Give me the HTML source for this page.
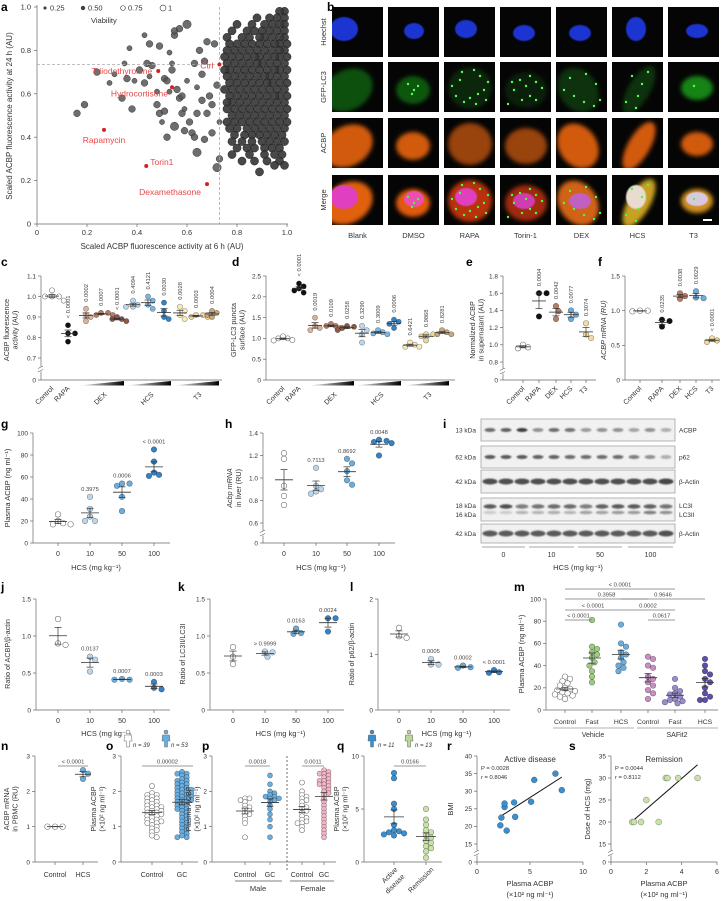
<!DOCTYPE html>
<html><head><meta charset="utf-8">
<style>
html,body{margin:0;padding:0;background:#fff;}
svg{display:block;font-family:"Liberation Sans",Arial,sans-serif;}
</style></head>
<body>
<svg id="fig" width="722" height="901" viewBox="0 0 722 901" xmlns="http://www.w3.org/2000/svg">
<defs>
<filter id="blur1" x="-50%" y="-50%" width="200%" height="200%"><feGaussianBlur stdDeviation="2.2"/></filter>
<filter id="blur0" x="-50%" y="-50%" width="200%" height="200%"><feGaussianBlur stdDeviation="0.6"/></filter>
<filter id="bandblur" x="-50%" y="-100%" width="200%" height="300%"><feGaussianBlur stdDeviation="0.9"/></filter>
<linearGradient id="wedge" x1="0" x2="1" y1="0" y2="0"><stop offset="0" stop-color="#fff"/><stop offset="1" stop-color="#000"/></linearGradient>
<clipPath id="bclip"><rect x="0" y="0" width="51" height="50"/></clipPath>
</defs>
</svg>
<script>
// ================= DATA =================
const aScatter=[[0.16,0.51,0.75],[0.19,0.55,0.75],[0.24,0.70,0.75],[0.29,0.65,0.5],[0.31,0.69,0.5],[0.34,0.58,0.75],[0.35,0.74,0.5],[0.36,0.67,0.75],[0.37,0.81,0.5],[0.38,0.53,0.75],[0.39,0.66,0.5],[0.41,0.71,0.75],[0.43,0.65,0.75],[0.43,0.87,0.5],[0.44,0.74,0.75],[0.45,0.83,0.75],[0.45,0.68,0.5],[0.46,0.73,0.75],[0.48,0.55,0.75],[0.49,0.51,0.75],[0.49,0.82,0.75],[0.50,0.47,0.5],[0.51,0.67,0.75],[0.51,0.52,0.75],[0.52,0.66,0.75],[0.53,0.79,0.5],[0.53,0.61,0.5],[0.54,0.74,0.5],[0.54,0.71,0.75],[0.55,0.87,0.75],[0.55,0.89,0.75],[0.55,0.45,1],[0.56,0.62,0.75],[0.57,0.90,0.75],[0.57,0.58,0.75],[0.58,0.59,0.75],[0.58,0.51,0.75],[0.59,0.53,0.5],[0.59,0.43,0.75],[0.60,0.92,1],[0.60,0.66,0.5],[0.61,0.47,0.75],[0.62,0.42,0.75],[0.63,0.40,0.75],[0.63,0.74,0.75],[0.64,0.63,0.5],[0.64,0.33,1],[0.64,0.51,0.75],[0.65,0.80,0.75],[0.66,0.69,0.75],[0.66,0.57,0.75],[0.67,0.39,0.75],[0.67,0.75,0.75],[0.68,0.51,0.75],[0.68,0.84,0.75],[0.69,0.59,0.75],[0.70,0.55,0.75],[0.70,0.42,0.75],[0.71,0.83,0.75],[0.72,0.26,1],[0.72,0.64,0.75],[0.73,0.47,0.5],[0.73,0.30,0.75],[0.52,0.40,0.75],[0.48,0.61,0.5]];
const aClusterY=[0.98,0.95,0.92,0.89,0.86,0.83,0.80,0.77,0.74,0.71,0.68,0.65,0.62,0.59,0.56,0.53,0.50,0.47,0.44,0.41,0.38,0.35,0.32,0.29,0.27,0.24];
const aClusterX=[[.99,.97],[.99,.96,.93,.88],[.99,.97,.94,.91,.86,.80],[.99,.96,.93,.90,.87,.84,.78],[.99,.97,.94,.91,.89,.85,.82,.76],[1.0,.97,.95,.92,.89,.86,.83,.80,.77],[.99,.97,.94,.91,.88,.85,.82,.79,.76],[1.0,.97,.95,.92,.89,.87,.84,.81,.78,.75],[.99,.96,.93,.90,.88,.85,.82,.79,.76],[1.0,.97,.95,.92,.89,.86,.83,.80,.77,.75],[.99,.96,.93,.91,.88,.85,.82,.79,.76],[1.0,.97,.94,.92,.89,.86,.83,.80,.77],[.99,.96,.93,.90,.87,.84,.81,.78,.75],[1.0,.97,.95,.92,.89,.86,.83,.80,.77],[.99,.96,.93,.90,.87,.84,.81,.78,.76],[1.0,.97,.94,.91,.88,.85,.82,.79,.76],[.99,.96,.93,.90,.87,.84,.81,.78],[1.0,.97,.94,.91,.88,.85,.82,.79,.76],[.99,.96,.93,.90,.87,.84,.80,.77],[.98,.95,.92,.89,.86,.83,.79],[.99,.96,.93,.90,.86,.82,.78],[.97,.94,.91,.87,.84,.80],[.98,.95,.91,.85,.78],[.97,.92,.87,.82],[.99,.95],[.89]];
const aHighlightNames=['Triiodothyronine','Ctrl','Hydrocortisone','Rapamycin','Torin1','Dexamethasone'];
const aHighlightX=[0.485,0.73,0.54,0.268,0.437,0.68];
const aHighlightY=[0.705,0.735,0.63,0.434,0.267,0.184];
const aTicks=[0,0.2,0.4,0.6,0.8,1.0];
const aTickLabels=['0','0.2','0.4','0.6','0.8','1.0'];

const cVals=[[1.0,1.0,1.0,1.03,0.98],[0.86,0.82,0.82,0.78],[0.94,0.91,0.90,0.88],[0.92,0.91,0.91,0.92],[0.89,0.89,0.88,0.90],[0.98,0.95,0.95,0.96],[1.0,0.98,0.96,0.94],[0.97,0.93,0.90,0.89],[0.95,0.93,0.91,0.89],[0.91,0.91,0.90,0.90],[0.93,0.92,0.91,0.90]];
const cP=['','< 0.0001','0.0002','0.0007','< 0.0001','0.4094','0.4121','0.0030','0.0028','0.0003','0.0004'];
const dVals=[[1.0,0.95,0.96,1.05,1.0],[2.25,2.32,2.15,2.1,2.2],[1.5,1.3,1.25,1.2],[1.35,1.3,1.25,1.3],[1.3,1.28,1.25,1.2],[1.3,1.2,1.1,0.9],[1.2,1.15,1.1,1.12],[1.45,1.4,1.35,1.25],[0.9,0.85,0.8,0.8],[1.1,1.1,1.05,0.95],[1.2,1.15,1.1,1.1]];
const dP=['','< 0.0001','0.0019','0.0109','0.0258','0.3290','0.3009','0.0006','0.6421','0.9868','0.8281'];
const eVals=[[1.0,0.97,0.96],[1.6,1.6,1.33],[1.45,1.39,1.3],[1.4,1.35,1.3],[1.25,1.12,1.08]];
const eP=['','0.0004','0.0042','0.0077','0.3074'];
const fVals=[[1.0,1.0,0.99],[0.87,0.85,0.77],[1.25,1.21,1.17],[1.28,1.18,1.19],[0.6,0.57,0.55]];
const fP=['','0.0235','0.0038','0.0029','< 0.0001'];
const fiveCats=['Control','RAPA','DEX','HCS','T3'];
const gVals=[[26,20,18,17,17],[42,31,24,20,20],[54,52,54,42,29],[85,74,64,62,61]];
const gP=['','0.3975','0.0006','< 0.0001'];
const hVals=[[1.22,1.17,0.93,0.84,0.76],[1.09,0.93,0.90,0.88,0.86],[1.17,1.13,1.06,0.98,0.94],[1.34,1.33,1.32,1.31,1.20]];
const hP=['','0.7113','0.8692','0.0048'];
const doseLabels=['0','10','50','100'];
const blotACBP=[.7,.75,.95,.5,.7,.65,.45,.5,.5,.4,.5,.35];
const blotP62=[.8,.8,.8,.75,.75,.7,.7,.7,.7,.6,.5,.35];
const blotActin=[.85,.85,.85,.85,.85,.85,.85,.85,.85,.85,.85,.9];
const blotLC3I=[.8,.85,.6,.65,.7,.7,.6,.75,.8,.8,.75,.65];
const blotLC3II=[.2,.2,.3,.3,.35,.3,.4,.4,.45,.45,.6,.5];
const blotActin2=[.8,.8,.8,.8,.8,.8,.8,.8,.8,.8,.8,.85];
const jVals=[[1.23,0.9,0.88],[0.72,0.68,0.52],[0.41,0.42,0.41],[0.38,0.30,0.28]];
const jP=['','0.0137','0.0007','0.0003'];
const kVals=[[0.85,0.72,0.62],[0.79,0.78,0.72],[1.10,1.04,1.03],[1.24,1.24,1.06]];
const kP=['','> 0.9999','0.0163','0.0024'];
const lVals=[[1.48,1.33,1.30],[0.92,0.82,0.82],[0.80,0.77,0.76],[0.72,0.68,0.67]];
const lP=['','0.0005','0.0002','< 0.0001'];
const mCats=['Control','Fast','HCS','Control','Fast','HCS'];
const mVals=[[30,28,26,24,22,20,19,18,17,16,15,14,13,12,10],[81,57,55,52,50,47,43,40,35,30,25],[77,60,57,52,50,47,43,40,38,35],[48,46,40,38,30,28,25,22,18,15,10],[28,20,17,15,14,12,10,9,8,7,6],[46,40,35,32,28,25,20,15,12,9,9]];
const mBrFrom=[0,3,0,2,0,2,0];
const mBrTo=[1,4,2,4,3,5,4];
const mBrLevel=[0,0,1,1,2,2,3];
const mBrLabel=['< 0.0001','0.0617','< 0.0001','0.0002','0.3958','0.9646','< 0.0001'];
const nVals=[[1,1,1],[2.6,2.5,2.35]];
const oVals=[[2.15,1.95,1.9,1.9,1.85,1.8,1.8,1.75,1.7,1.7,1.65,1.6,1.6,1.55,1.55,1.5,1.5,1.45,1.45,1.4,1.4,1.35,1.35,1.3,1.3,1.25,1.2,1.2,1.15,1.15,1.1,1.1,1.05,1.0,0.95,0.9,0.85,0.75,0.7],[2.55,2.5,2.5,2.45,2.4,2.35,2.3,2.3,2.25,2.2,2.2,2.15,2.1,2.1,2.05,2.05,2.0,2.0,1.95,1.95,1.9,1.9,1.85,1.85,1.8,1.8,1.75,1.75,1.7,1.7,1.65,1.6,1.6,1.55,1.5,1.5,1.45,1.4,1.35,1.3,1.25,1.2,1.15,1.1,1.05,1.0,0.95,0.9,0.85,0.8,0.75,0.7,0.7]];
const pVals=[[1.8,1.8,1.75,1.7,1.6,1.55,1.5,1.45,1.4,1.35,1.3,1.2,1.1,0.7],[2.45,2.2,2.0,1.95,1.9,1.85,1.85,1.8,1.8,1.75,1.7,1.6,1.5,1.35,1.2,1.0,0.7],[2.25,2.0,1.9,1.85,1.8,1.75,1.7,1.6,1.55,1.5,1.45,1.4,1.3,1.25,1.2,1.15,1.1,1.1,1.0,0.9],[2.6,2.55,2.5,2.5,2.45,2.4,2.35,2.3,2.3,2.25,2.2,2.2,2.15,2.1,2.05,2.0,1.95,1.9,1.8,1.7,1.6,1.5,1.4,1.3,1.2,1.1,1.0,0.9,0.8,0.7]];
const qVals=[[8.4,7.9,5.5,5.0,3.5,3.0,2.9,2.8,2.7,2.6,2.5],[5.0,4.0,3.5,3.0,2.8,2.5,2.3,2.0,1.8,1.5,1.3,1.0,0.4]];
const rX=[2.3,2.2,2.6,2.6,2.8,3.5,3.6,5.1,5.4,7.4,8.0];
const rY=[22.5,20.3,25.5,26.5,18.8,26.8,22.7,27.0,33.2,35.0,30.3];
const sX=[1.2,1.3,1.7,2.0,2.7,3.1,3.2,3.8,4.9];
const sY=[20,20,20,25,20,30,30,30,30];

// ================= HELPERS =================
const NS='http://www.w3.org/2000/svg';
const svg=document.getElementById('fig');
function mk(tag,a,nm,p){
  const el=document.createElementNS(NS,tag);
  for(const k in a) el.setAttribute(k,a[k]);
  
  
  (p||svg).appendChild(el);
  return el;
}
function tx(x,y,s,o,nm){
  o=o||{};
  const el=mk('text',{x:x,y:y,'font-size':o.fs||6.5,'text-anchor':o.a||'middle',fill:o.fill||'#333'},nm||'label',o.p);
  if(o.rot!==undefined) el.setAttribute('transform','rotate('+o.rot+' '+x+' '+y+')');
  if(o.fw) el.setAttribute('font-weight',o.fw);
  if(o.it) el.setAttribute('font-style','italic');
  el.textContent=s;
  return el;
}
function lin(v0,y0,v1,y1){return v=>y0+(v-v0)/(v1-v0)*(y1-y0);}
function mean(a){return a.reduce((s,v)=>s+v,0)/a.length;}
function sem(a){const m=mean(a);return Math.sqrt(a.reduce((s,v)=>s+(v-m)*(v-m),0)/(a.length-1))/Math.sqrt(a.length);}
function letter(x,y,s){tx(x,y,s,{fs:12,fw:'bold',a:'start',fill:'#000'},'panel-letter-'+s);}
function yAxis(ax,sc,ticks,labels,yBot,nm,brkAt){
  mk('line',{x1:ax,y1:sc(ticks[ticks.length-1]),x2:ax,y2:yBot,stroke:'#666','stroke-width':0.7},nm+'-y-axis');
  ticks.forEach((t,i)=>{const y=sc(t);
    mk('line',{x1:ax-3,y1:y,x2:ax,y2:y,stroke:'#666','stroke-width':0.7},nm+'-y-tick');
    tx(ax-5,y+2.3,labels[i],{a:'end'},nm+'-y-tick-label');});
  if(brkAt!==undefined){const y=brkAt;
    mk('rect',{x:ax-2,y:y-2.5,width:4,height:5,fill:'#fff'},nm+'-axis-break-gap');
    mk('path',{d:'M'+(ax-3)+' '+(y-0.5)+'L'+(ax+2)+' '+(y-3)+'M'+(ax-3)+' '+(y+3)+'L'+(ax+2)+' '+(y+0.5),stroke:'#666','stroke-width':0.6,fill:'none'},nm+'-axis-break');}
}
function xAxis(ax,xEnd,yBot,xs,nm){
  mk('line',{x1:ax,y1:yBot,x2:xEnd,y2:yBot,stroke:'#666','stroke-width':0.7},nm+'-x-axis');
  xs.forEach(x=>mk('line',{x1:x,y1:yBot,x2:x,y2:yBot+3,stroke:'#666','stroke-width':0.7},nm+'-x-tick'));
}
function swarm(vals,cx,sc,r,df){
  const idx=vals.map((v,i)=>i).sort((a,b)=>vals[b]-vals[a]);
  const placed=[],out=[],d=r*(df||1.9);
  idx.forEach(i=>{const y=sc(vals[i]);let k=0,x=cx;
    while(k<80){const off=(k%2?1:-1)*Math.ceil(k/2)*r*0.9;x=cx+off;
      if(placed.every(p=>Math.hypot(p[0]-x,p[1]-y)>=d))break;k++;}
    placed.push([x,y]);out[i]=[x,y];});
  return out;
}
function strip(xs,vals,cols,sc,nm,r,mw,df){
  vals.forEach((g,i)=>{
    const pos=swarm(g,xs[i],sc,r,df);
    pos.forEach(p=>mk('circle',{cx:p[0].toFixed(2),cy:p[1].toFixed(2),r:r,fill:cols[i],stroke:cols[i]==='#ffffff'?'#666':'rgba(0,0,0,0.45)','stroke-width':0.55},nm+'-point'));
    const m=mean(g),se=sem(g),w=mw||8;
    mk('line',{x1:xs[i]-w,x2:xs[i]+w,y1:sc(m),y2:sc(m),stroke:'#333','stroke-width':0.8},nm+'-mean-line');
    mk('line',{x1:xs[i],x2:xs[i],y1:sc(m-se),y2:sc(m+se),stroke:'#333','stroke-width':0.7},nm+'-sem-bar');
    [m-se,m+se].forEach(v=>mk('line',{x1:xs[i]-3.5,x2:xs[i]+3.5,y1:sc(v),y2:sc(v),stroke:'#333','stroke-width':0.7},nm+'-sem-cap'));
  });
}
function pvRot(xs,vals,ps,sc,nm){ps.forEach((p,i)=>{if(!p)return;const top=sc(Math.max(...vals[i]));tx(xs[i]+2,top-7,p,{rot:-90,a:'start',fs:5.8,fill:'#444'},nm+'-p-value');});}
function pvFlat(xs,vals,ps,sc,nm){ps.forEach((p,i)=>{if(!p)return;const top=sc(Math.max(...vals[i]));tx(xs[i],top-6,p,{fs:5.8,fill:'#444'},nm+'-p-value');});}
function bracket(x1,x2,y,label,nm){
  mk('line',{x1:x1,x2:x2,y1:y,y2:y,stroke:'#777','stroke-width':0.7},nm+'-bracket');
  tx((x1+x2)/2,y-2.5,label,{fs:5.8,fill:'#444'},nm+'-bracket-label');
}
function rotLabel(x,y,s,nm){tx(x,y,s,{rot:-45,a:'end',fs:7,fill:'#333'},nm);}
function wedge(x1,x2,y,nm){mk('polygon',{points:x1+','+(y+4.5)+' '+x2+','+(y)+' '+x2+','+(y+4.5),fill:'url(#wedge)'},nm);}
function yTitle(x,yc,lines,nm,fs){lines.forEach((s,i)=>tx(x+i*8.5,yc,s,{rot:-90,fs:fs||7.2,fill:'#333'},nm));}

// ================= PANEL A =================
letter(1,11,'a');
const aX=lin(0,37,1,287), aY=lin(0,224,1,7);
mk('line',{x1:37,y1:5,x2:37,y2:224,stroke:'#666','stroke-width':0.7},'a-y-axis');
mk('line',{x1:37,y1:224,x2:288,y2:224,stroke:'#666','stroke-width':0.7},'a-x-axis');
aTicks.forEach((t,i)=>{
  mk('line',{x1:aX(t),x2:aX(t),y1:224,y2:227,stroke:'#666','stroke-width':0.7},'a-x-tick');
  tx(aX(t),235,aTickLabels[i],{fs:7.5},'a-x-tick-label');
  mk('line',{x1:34,x2:37,y1:aY(t),y2:aY(t),stroke:'#666','stroke-width':0.7},'a-y-tick');
  tx(31,aY(t)+2.6,aTickLabels[i],{fs:7.5,a:'end'},'a-y-tick-label');
});
tx(162,249,'Scaled ACBP fluorescence activity at 6 h (AU)',{fs:8},'a-x-axis-title');
tx(12,116,'Scaled ACBP fluorescence activity at 24 h (AU)',{fs:8,rot:-90},'a-y-axis-title');
function vr(v){return 1+v*3.2;}
aClusterY.forEach((y,i)=>aClusterX[i].forEach(x=>mk('circle',{cx:aX(x),cy:aY(y),r:4.1,fill:'#383838',stroke:'#111','stroke-width':0.4,'fill-opacity':0.92},'a-compound-point')));
aScatter.forEach(p=>mk('circle',{cx:aX(p[0]),cy:aY(p[1]),r:vr(p[2]),fill:'#555',stroke:'#222','stroke-width':0.4,'fill-opacity':0.85},'a-compound-point'));
mk('line',{x1:aX(0.73),x2:aX(0.73),y1:aY(1),y2:224,stroke:'#aaa','stroke-width':0.8,'stroke-dasharray':'3,2'},'a-threshold-vertical');
mk('line',{x1:37,x2:aX(0.73),y1:aY(0.735),y2:aY(0.735),stroke:'#aaa','stroke-width':0.8,'stroke-dasharray':'3,2'},'a-threshold-horizontal');
const aLx=[-6,-6,-4,0,4,-6], aLy=[3,4,9,13,-1,11], aAnchor=['end','end','end','middle','start','end'];
aHighlightNames.forEach((n,i)=>{
  const x=aX(aHighlightX[i]),y=aY(aHighlightY[i]);
  mk('circle',{cx:x,cy:y,r:2,fill:'#d42020'},'a-highlight-point');
  tx(x+aLx[i],y+aLy[i],n,{fs:8.5,a:aAnchor[i],fill:'#e84848'},'a-highlight-label');
});
const legX=[45,83,123,163],legV=[0.25,0.5,0.75,1],legL=['0.25','0.50','0.75','1'];
legV.forEach((v,i)=>{mk('circle',{cx:legX[i],cy:8,r:vr(v)*0.7,fill:i<2?'#444':'#fff',stroke:'#333','stroke-width':0.6},'a-legend-symbol');
  tx(legX[i]+5,10.5,legL[i],{fs:7.5,a:'start'},'a-legend-label');});
tx(91,23,'Viability',{fs:7.5,a:'start'},'a-legend-title');

// ================= PANEL B =================
letter(327,11,'b');
const bCols=['Blank','DMSO','RAPA','Torin-1','DEX','HCS','T3'];
const bRows=['Hoechst','GFP-LC3','ACBP','Merge'];
const bRowY=[7,62,118,175];
const bNuc=[[12,22,14,12],[26,24,10,8],[22,22,11,9],[24,26,11,8],[24,26,11,8],[24,22,10,12],[29,24,11,7]];
const bCell=[[16,28,26,20,-30],[25,28,17,14,0],[26,26,22,21,0],[26,28,21,18,0],[22,28,19,24,-35],[27,28,11,27,30],[29,26,16,12,0]];
const bGfp=[0.5,0.55,0.22,0.18,0.3,0.3,0.85];
const bMergeNuc=['#e040c0','#ec50b0','#e040c0','#d03cb0','#c060c0','#e8dcd0','#d8c8e0'];
const bMergeCell=['#e0600a','#e05a10','#b83010','#a02a10','#d06418','#c8a020','#d09020'];
const bPuncta=[[],[[20,22],[26,28],[30,24],[24,32]],[[8,24],[18,10],[30,8],[36,14],[40,28],[42,38],[32,42],[20,40],[12,34],[26,36],[34,32],[16,18],[44,20]],[[8,42],[14,28],[20,18],[30,14],[36,20],[42,26],[30,34],[22,38],[36,38],[12,20],[26,24]],[[14,16],[30,12],[40,22],[44,38],[38,44],[18,34],[8,28],[28,40]],[[20,14],[30,22],[26,34],[14,40],[36,10],[24,46]],[[26,24]]];
bCols.forEach((c,ci)=>{
  const x0=332+56*ci;
  bRows.forEach((rname,ri)=>{
    const g=mk('g',{transform:'translate('+x0+','+bRowY[ri]+')','clip-path':'url(#bclip)'},'b-image-'+c+'-'+rname);
    mk('rect',{x:0,y:0,width:51,height:50,fill:'#050505'},'b-image-background',g);
    const n=bNuc[ci],cl=bCell[ci];
    if(ri===0){
      mk('ellipse',{cx:n[0],cy:n[1],rx:n[2],ry:n[3],fill:'#1c34d0',filter:'url(#blur0)'},'b-nucleus',g);
    } else if(ri===1){
      mk('ellipse',{cx:cl[0],cy:cl[1],rx:cl[2],ry:cl[3],fill:'#1a9a1a','fill-opacity':bGfp[ci],transform:'rotate('+cl[4]+' '+cl[0]+' '+cl[1]+')',filter:'url(#blur1)'},'b-gfp-cell',g);
      bPuncta[ci].forEach(p=>mk('circle',{cx:p[0],cy:p[1],r:1.2,fill:'#5f5'},'b-gfp-punctum',g));
    } else if(ri===2){
      mk('ellipse',{cx:cl[0],cy:cl[1],rx:cl[2],ry:cl[3],fill:'#e8640c','fill-opacity':ci===2||ci===3?0.65:0.9,transform:'rotate('+cl[4]+' '+cl[0]+' '+cl[1]+')',filter:'url(#blur1)'},'b-acbp-cell',g);
    } else {
      mk('ellipse',{cx:cl[0],cy:cl[1],rx:cl[2],ry:cl[3],fill:bMergeCell[ci],transform:'rotate('+cl[4]+' '+cl[0]+' '+cl[1]+')',filter:'url(#blur1)'},'b-merge-cell',g);
      mk('ellipse',{cx:n[0],cy:n[1],rx:n[2],ry:n[3],fill:bMergeNuc[ci],filter:'url(#blur0)'},'b-merge-nucleus',g);
      bPuncta[ci].forEach(p=>mk('circle',{cx:p[0],cy:p[1],r:1.2,fill:'#4f4'},'b-merge-punctum',g));
      if(ci===6) mk('rect',{x:35,y:44,width:9,height:2,fill:'#fff'},'b-scale-bar',g);
    }
  });
  tx(x0+25.5,238,c,{fs:7.5},'b-column-label');
});
const bRowCenters=[32,87,143,200];
bRows.forEach((r,i)=>tx(326,bRowCenters[i],r,{fs:7.5,rot:-90},'b-row-label'));

// ================= PANEL C =================
letter(1,266,'c');
const cX=[52,68,86,101,117,133,148,164,180,196,212];
const cCol=['#ffffff','#111111','#deb29a','#b97d65','#8c5a48','#b9d7ef','#7ab6e3','#3483c8','#fbecbd','#efd89a','#c8a878'];
const cSc=v=> v<0.7 ? 380 : 358+(v-0.7)/0.4*(276-358);
yAxis(41,cSc,[0,0.7,0.8,0.9,1.0,1.1],['0','0.7','0.8','0.9','1.0','1.1'],380,'c',369);
xAxis(41,222,380,[],'c');
strip(cX,cVals,cCol,cSc,'c',2.6,7);
pvRot(cX,cVals,cP,cSc,'c');
yTitle(9,330,['ACBP fluorescence','activity (AU)'],'c-y-axis-title');
function groupLabels(xs,nm){
  rotLabel(xs[0]+2,389,'Control',nm+'-category-label');
  rotLabel(xs[1]+2,389,'RAPA',nm+'-category-label');
  [['DEX',2],['HCS',5],['T3',8]].forEach(g=>{wedge(xs[g[1]]-7,xs[g[1]+2]+7,381,nm+'-dose-wedge');rotLabel(xs[g[1]+1]+6,395,g[0],nm+'-category-label');});
}
groupLabels(cX,'c');

// ================= PANEL D =================
letter(232,266,'d');
const dX=[283,299,315,331,347,362,378,394,410,426,442];
const dSc=lin(0,380,2.5,276);
yAxis(266,dSc,[0,0.5,1.0,1.5,2.0,2.5],['0','0.5','1.0','1.5','2.0','2.5'],380,'d');
xAxis(266,455,380,[],'d');
strip(dX,dVals,cCol,dSc,'d',2.6,7);
pvRot(dX,dVals,dP,dSc,'d');
yTitle(236,330,['GFP-LC3 puncta','surface (AU)'],'d-y-axis-title');
groupLabels(dX,'d');

// ================= PANEL E =================
letter(466,266,'e');
const eX=[523,539,556,571,586];
const efCol=['#ffffff','#111111','#b97d65','#6aaee0','#f5dc9a'];
const eSc=v=> v<0.8 ? 380 : 362+(v-0.8)/1.0*(276-362);
yAxis(503,eSc,[0,0.8,1.0,1.2,1.4,1.6,1.8],['0','0.8','1.0','1.2','1.4','1.6','1.8'],380,'e',371);
xAxis(503,596,380,eX,'e');
strip(eX,eVals,efCol,eSc,'e',2.8,7);
pvRot(eX,eVals,eP,eSc,'e');
yTitle(475,330,['Normalized ACBP','in supernatant (AU)'],'e-y-axis-title');
fiveCats.forEach((c,i)=>rotLabel(eX[i]+2,389,c,'e-category-label'));

// ================= PANEL F =================
letter(598,266,'f');
const fX=[640,662,680,696,712];
const fSc=lin(0,380,1.5,276);
yAxis(625,fSc,[0,0.5,1.0,1.5],['0','0.5','1.0','1.5'],380,'f');
xAxis(625,720,380,fX,'f');
strip(fX,fVals,efCol,fSc,'f',2.8,7);
pvRot(fX,fVals,fP,fSc,'f');
tx(606,330,'ACBP mRNA (RU)',{rot:-90,fs:7.2,it:1},'f-y-axis-title');
fiveCats.forEach((c,i)=>rotLabel(fX[i]+2,389,c,'f-category-label'));

// ================= PANEL G =================
const doseCol=['#ffffff','#b9d7ef','#6aaee0','#3483c8'];
letter(1,428,'g');
const gX=[58,90,122,154];
const gSc=lin(0,543,100,433);
yAxis(33,gSc,[0,20,40,60,80,100],['0','20','40','60','80','100'],543,'g');
xAxis(33,170,543,gX,'g');
strip(gX,gVals,doseCol,gSc,'g',2.8,9);
pvFlat(gX,gVals,gP,gSc,'g');
doseLabels.forEach((d,i)=>tx(gX[i],556,d,{fs:7},'g-x-tick-label'));
tx(96,570,'HCS (mg kg⁻¹)',{fs:7.5},'g-x-axis-title');
tx(10,488,'Plasma ACBP (ng ml⁻¹)',{rot:-90,fs:7.5},'g-y-axis-title');

// ================= PANEL H =================
letter(225,428,'h');
const hX=[284,316,347,379];
const hSc=v=> v<0.6 ? 543 : 523+(v-0.6)/0.8*(433-523);
yAxis(263,hSc,[0,0.6,0.8,1.0,1.2,1.4],['0','0.6','0.8','1.0','1.2','1.4'],543,'h',533);
xAxis(263,395,543,hX,'h');
strip(hX,hVals,doseCol,hSc,'h',2.8,9);
pvFlat(hX,hVals,hP,hSc,'h');
doseLabels.forEach((d,i)=>tx(hX[i],556,d,{fs:7},'h-x-tick-label'));
tx(321,570,'HCS (mg kg⁻¹)',{fs:7.5},'h-x-axis-title');
tx(232,488,'Acbp mRNA',{rot:-90,fs:7.2,it:1},'h-y-axis-title');
tx(241,488,'in liver (RU)',{rot:-90,fs:7.2},'h-y-axis-title');

// ================= PANEL I =================
letter(443,428,'i');
const blots=[blotACBP,blotP62,blotActin,blotLC3I,blotActin2];
const blotTop=[419,446,470,498,524];
const blotH=[22,22,23,23,19];
const blotKda=[['13 kDa'],['62 kDa'],['42 kDa'],['18 kDa','16 kDa'],['42 kDa']];
const blotName=[['ACBP'],['p62'],['β-Actin'],['LC3I','LC3II'],['β-Actin']];
blots.forEach((b,bi)=>{
  mk('rect',{x:481,y:blotTop[bi],width:194,height:blotH[bi],fill:'#f1f1f1',stroke:'#999','stroke-width':0.7},'i-blot-frame');
  const cy=blotTop[bi]+blotH[bi]/2;
  b.forEach((v,li)=>{
    const lx=489+li*16;
    if(bi===3){
      mk('ellipse',{cx:lx+1,cy:cy-3,rx:6.5,ry:2.2,fill:'#333','fill-opacity':v,filter:'url(#bandblur)'},'i-band-lc3i');
      mk('ellipse',{cx:lx+1,cy:cy+3,rx:6.5,ry:1.8,fill:'#333','fill-opacity':blotLC3II[li],filter:'url(#bandblur)'},'i-band-lc3ii');
    } else {
      const big=(bi===2||bi===4);
      mk('ellipse',{cx:lx+1,cy:cy,rx:big?7.5:5.5,ry:big?3:2,fill:'#333','fill-opacity':v,filter:'url(#bandblur)'},'i-band');
    }
  });
  blotKda[bi].forEach((k,ki)=>tx(476,cy+2.5+(blotKda[bi].length>1?(ki?5:-4):0),k,{fs:6.5,a:'end'},'i-kda-label'));
  blotName[bi].forEach((k,ki)=>tx(679,cy+2.5+(blotName[bi].length>1?(ki?5:-4):0),k,{fs:6.5,a:'start'},'i-protein-label'));
});
const iGroupX1=[482,529,578,628], iGroupX2=[525,574,622,673];
doseLabels.forEach((d,i)=>{mk('line',{x1:iGroupX1[i],x2:iGroupX2[i],y1:547,y2:547,stroke:'#888','stroke-width':0.7},'i-group-line');
  tx((iGroupX1[i]+iGroupX2[i])/2,557,d,{fs:7},'i-dose-label');});
tx(578,570,'HCS (mg kg⁻¹)',{fs:7.5},'i-x-axis-title');

// ================= PANELS J, K, L =================
const rowTop=599,rowBot=710;
function doseStrip(nm,ax,xs,vals,ps,sc,ticks,labels,yt,ytx,letterX){
  letter(letterX,591,nm);
  yAxis(ax,sc,ticks,labels,rowBot,nm);
  xAxis(ax,xs[3]+16,rowBot,xs,nm);
  strip(xs,vals,doseCol,sc,nm,2.8,9);
  pvFlat(xs,vals,ps,sc,nm);
  doseLabels.forEach((d,i)=>tx(xs[i],723,d,{fs:7},nm+'-x-tick-label'));
  tx((xs[0]+xs[3])/2,736,'HCS (mg kg⁻¹)',{fs:7.5},nm+'-x-axis-title');
  tx(ytx,654,yt,{rot:-90,fs:7.2},nm+'-y-axis-title');
}
doseStrip('j',36,[58,90,122,154],jVals,jP,lin(0,rowBot,1.5,rowTop),[0,0.5,1.0,1.5],['0','0.5','1.0','1.5'],'Ratio of ACBP/β-actin',10,1);
doseStrip('k',210,[233,265,296,328],kVals,kP,lin(0,rowBot,1.5,rowTop),[0,0.5,1.0,1.5],['0','0.5','1.0','1.5'],'Ratio of LC3II/LC3I',185,178);
doseStrip('l',378,[399,431,463,494],lVals,lP,lin(0,rowBot,2,rowTop),[0,1,2],['0','1','2'],'Ratio of p62/β-actin',354,350);

// ================= PANEL M =================
letter(514,591,'m');
const mX=[565,592,621,648,675,705];
const mCol=['#ffffff','#9ccd80','#6aaee0','#c98fc4','#9b8bd0','#5e50a8'];
const mSc=lin(0,rowBot,100,rowTop);
yAxis(546,mSc,[0,20,40,60,80,100],['0','20','40','60','80','100'],rowBot,'m');
xAxis(546,718,rowBot,mX,'m');
strip(mX,mVals,mCol,mSc,'m',2.8,9,1.6);
const mLevelY=[620,610,599,589];
mBrFrom.forEach((f,i)=>bracket(mX[f],mX[mBrTo[i]],mLevelY[mBrLevel[i]],mBrLabel[i],'m'));
mCats.forEach((c,i)=>tx(mX[i],724,c,{fs:6.8},'m-category-label'));
mk('line',{x1:553,x2:634,y1:728,y2:728,stroke:'#999','stroke-width':0.8},'m-group-line-vehicle');
mk('line',{x1:637,x2:718,y1:728,y2:728,stroke:'#999','stroke-width':0.8},'m-group-line-safit2');
tx(593,737,'Vehicle',{fs:7},'m-group-label');
tx(677,737,'SAFit2',{fs:7},'m-group-label');
tx(524,654,'Plasma ACBP (ng ml⁻¹)',{rot:-90,fs:7.5},'m-y-axis-title');

// ================= ROW 5 =================
const r5Top=756,r5Bot=862;
function person(x,y,col,nm){
  mk('circle',{cx:x,cy:y,r:2,fill:col,stroke:'#666','stroke-width':0.5},nm+'-head');
  mk('path',{d:'M'+(x-4)+' '+(y+9)+'L'+(x-3.5)+' '+(y+3)+'L'+(x+3.5)+' '+(y+3)+'L'+(x+4)+' '+(y+9)+'L'+(x+1.5)+' '+(y+9)+'L'+(x+1.5)+' '+(y+15)+'L'+(x-1.5)+' '+(y+15)+'L'+(x-1.5)+' '+(y+9)+'Z',fill:col,stroke:'#666','stroke-width':0.5},nm+'-body');
}
letter(1,750,'n');
const nX=[55,83];
const nSc=lin(0,r5Bot,3,r5Top);
yAxis(35,nSc,[0,1,2,3],['0','1','2','3'],r5Bot,'n');
xAxis(35,98,r5Bot,nX,'n');
strip(nX,nVals,['#ffffff','#6aaee0'],nSc,'n',2.8,8);
bracket(58,88,766,'< 0.0001','n');
tx(55,877,'Control',{fs:7},'n-category-label');tx(83,877,'HCS',{fs:7},'n-category-label');
yTitle(9,809,['ACBP mRNA','in PBMC (RU)'],'n-y-axis-title');
letter(106,750,'o');
person(128,732,'#fff','o-icon-control');tx(133,747,'n = 39',{fs:6,a:'start',it:1},'o-n-control');
person(166,732,'#6aaee0','o-icon-gc');tx(171,747,'n = 53',{fs:6,a:'start',it:1},'o-n-gc');
const oX=[152,182];
const oSc=lin(0,r5Bot,3,r5Top);
yAxis(121,oSc,[0,1,2,3],['0','1','2','3'],r5Bot,'o');
xAxis(121,198,r5Bot,oX,'o');
strip(oX,oVals,['#ffffff','#6aaee0'],oSc,'o',2.6,10,1.25);
bracket(142,193,766,'0.00002','o');
tx(152,877,'Control',{fs:7},'o-category-label');tx(182,877,'GC',{fs:7},'o-category-label');
yTitle(96,809,['Plasma ACBP','(×10² ng ml⁻¹)'],'o-y-axis-title');
letter(202,750,'p');
const pX=[245,270,302,324];
yAxis(212,oSc,[0,1,2,3],['0','1','2','3'],r5Bot,'p');
xAxis(212,336,r5Bot,pX,'p');
strip(pX,pVals,['#ffffff','#6aaee0','#ffffff','#f2b6c6'],oSc,'p',2.5,9,1.3);
mk('line',{x1:287,x2:287,y1:756,y2:870,stroke:'#333','stroke-width':0.7,'stroke-dasharray':'2,2'},'p-divider');
bracket(245,270,766,'0.0018','p');bracket(302,324,766,'0.0011','p');
tx(245,877,'Control',{fs:7},'p-category-label');tx(270,877,'GC',{fs:7},'p-category-label');
tx(302,877,'Control',{fs:7},'p-category-label');tx(324,877,'GC',{fs:7},'p-category-label');
mk('line',{x1:235,x2:282,y1:881,y2:881,stroke:'#555','stroke-width':0.7},'p-group-line-male');
mk('line',{x1:290,x2:334,y1:881,y2:881,stroke:'#555','stroke-width':0.7},'p-group-line-female');
tx(258,891,'Male',{fs:7.5},'p-group-label');tx(313,891,'Female',{fs:7.5},'p-group-label');
yTitle(191,809,['Plasma ACBP','(×10² ng ml⁻¹)'],'p-y-axis-title');
letter(337,750,'q');
person(372,732,'#3a8fd0','q-icon-active');tx(378,747,'n = 11',{fs:6,a:'start',it:1},'q-n-active');
person(409,732,'#b9d89a','q-icon-remission');tx(415,747,'n = 13',{fs:6,a:'start',it:1},'q-n-remission');
const qX=[394,426];
const qSc=lin(0,r5Bot,10,r5Top);
yAxis(364,qSc,[0,5,10],['0','5','10'],r5Bot,'q');
xAxis(364,442,r5Bot,qX,'q');
strip(qX,qVals,['#3a8fd0','#c9e2a8'],qSc,'q',2.8,10,1.6);
bracket(394,426,766,'0.0166','q');
rotLabel(398,870,'Active','q-category-label');rotLabel(405,877,'disease','q-category-label');
rotLabel(434,870,'Remission','q-category-label');
yTitle(339,809,['Plasma ACBP','(×10² ng ml⁻¹)'],'q-y-axis-title');
function corrPanel(nm,ax,xMax,xTicks,xs,ys,col,yMax,yTicks,title,yT,pTxt,rTxt,fit,letterX,yTx){
  letter(letterX,750,nm);
  const xs_=lin(0,ax,xMax,ax+106);
  const ysc=v=> v<15 ? r5Bot : 844+(v-15)/(yMax-15)*(r5Top-844);
  yAxis(ax,ysc,yTicks,yTicks.map(String),r5Bot,nm,853);
  mk('line',{x1:ax,y1:r5Bot,x2:ax+106,y2:r5Bot,stroke:'#666','stroke-width':0.7},nm+'-x-axis');
  xTicks.forEach(t=>{mk('line',{x1:xs_(t),x2:xs_(t),y1:r5Bot,y2:r5Bot+3,stroke:'#666','stroke-width':0.7},nm+'-x-tick');tx(xs_(t),874,String(t),{fs:7},nm+'-x-tick-label');});
  mk('line',{x1:xs_(fit[0]),y1:ysc(fit[1]),x2:xs_(fit[2]),y2:ysc(fit[3]),stroke:'#111','stroke-width':1},nm+'-regression-line');
  xs.forEach((x,i)=>mk('circle',{cx:xs_(x),cy:ysc(ys[i]),r:3,fill:col,stroke:'rgba(0,0,0,0.45)','stroke-width':0.5},nm+'-point'));
  tx(ax+53,762,title,{fs:8},nm+'-title');
  tx(ax+4,770,pTxt,{fs:5.8,a:'start'},nm+'-p-value');
  tx(ax+4,779,rTxt,{fs:5.8,a:'start'},nm+'-r-value');
  tx(ax+53,886,'Plasma ACBP',{fs:7.5},nm+'-x-axis-title');
  tx(ax+53,897,'(×10² ng ml⁻¹)',{fs:7.5},nm+'-x-axis-title');
  tx(yTx,809,yT,{rot:-90,fs:7.5},nm+'-y-axis-title');
}
corrPanel('r',477,10,[0,5,10],rX,rY,'#3a8fd0',40,[0,15,20,25,30,35,40],'Active disease','BMI','P = 0.0028','r = 0.8046',[2.3,23.0,8.0,34.0],447,453);
corrPanel('s',611,6,[0,2,4,6],sX,sY,'#c9e2a8',35,[0,15,20,25,30,35],'Remission','Dose of HCS (mg)','P = 0.0044','r = 0.8112',[1.3,20.5,4.9,33.0],569,590);
</script>
</body></html>
